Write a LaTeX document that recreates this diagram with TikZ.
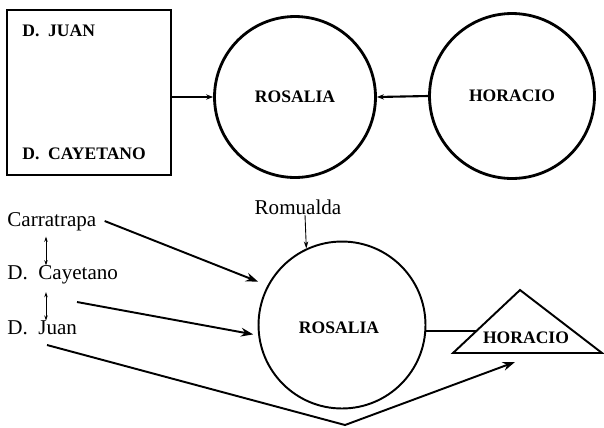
\documentclass[tikz,border=0pt]{standalone}
\usepackage{fontspec}
\setmainfont{Liberation Serif}
\usetikzlibrary{arrows.meta, positioning}
\tikzset{
  capsnode/.style = {align=center, inner sep=0pt, text centered,
    font=\fontsize{10}{12}\selectfont\bfseries},
  namenode/.style = {inner sep=0pt, anchor=west,
    font=\fontsize{12}{14}\selectfont},
  bigring/.style = {circle, draw=black, line width=1.6pt, inner sep=0pt},
  famframe/.style = {rectangle, draw=black, line width=1.6pt, inner sep=0pt},
  flow/.style = {line width=1.1pt, -{Stealth[length=7pt,width=5pt]}, shorten >=3pt},
  kin/.style = {line width=0.5pt, {Stealth[length=3pt,width=2pt]}-{Stealth[length=3pt,width=2pt]}}
}
\begin{document}
\begin{tikzpicture}[x=0.02cm, y=-0.02cm]
\useasboundingbox (0,0) rectangle (604,427);
% first scheme
\node [famframe, minimum width=3.28cm, minimum height=3.3cm] (fam) at (89,92.5) {};
\node [capsnode, anchor=west] (juanA) at (22,31) {D.\ \ JUAN};
\node [capsnode, anchor=west] (cayA) at (22,154) {D.\ \ CAYETANO};
\node [bigring, minimum size=3.22cm] (rosA) at (295,97) {};
\node [capsnode] at (rosA) {ROSALIA};
\node [bigring, minimum size=3.3cm] (horA) at (512,96) {};
\node [capsnode] at (horA) {HORACIO};
\draw [line width=1.2pt, -{Stealth[length=4pt,width=3pt]}] (fam.east |- rosA) -- (rosA.west);
\draw [line width=1.2pt, -{Stealth[length=4pt,width=3pt]}] (horA.west) -- (rosA.east);
% second scheme
\node [namenode] (carr) at (7,222) {Carratrapa};
\node [namenode] (cayB) at (7,275) {D.\ \ Cayetano};
\node [namenode] (juanB) at (7,328) {D.\ \ Juan};
\node [namenode, anchor=center] (romu) at (298,207) {Romualda};
\node [circle, draw=black, line width=1.1pt, minimum size=3.34cm, inner sep=0pt] (rosB) at (342,325) {};
\node [capsnode] (rosBtext) at (339,328) {ROSALIA};
\coordinate (apex) at (520,290);
\coordinate (baseL) at (453,353);
\coordinate (baseR) at (602,353);
\draw [line width=1.1pt, line join=miter] (baseL) -- (apex) -- (baseR) -- cycle;
\node [capsnode] (horB) at (526,338) {HORACIO};
\coordinate (cayout) at (77,302);
\coordinate (juanout) at (47,345);
\coordinate (fold) at (345,425);
\coordinate (horin) at (515,362);
\coordinate (side) at (477,331);

\draw [kin] ([xshift=0.78cm]carr.south west) ++(0,-0.1cm) -- ([xshift=0.78cm]cayB.north west);
\draw [kin] ([xshift=0.78cm]cayB.south west) ++(0,-0.15cm) -- ([xshift=0.78cm]juanB.north west);
\draw [line width=0.5pt, -{Stealth[length=4pt,width=2.5pt]}] ([xshift=0.14cm]romu.south) -- (rosB.115);
\draw [flow, shorten >=0.2cm] ([shift={(0.16cm,0.02cm)}]carr.east) -- (rosB.152);
\draw [flow, shorten >=0.1cm] (cayout) -- (rosB.187);
\draw [line width=1.1pt] (rosB.east |- side) -- (side);
\draw [flow, shorten >=0pt] (juanout) -- (fold) -- (horin);
\end{tikzpicture}
\end{document}
